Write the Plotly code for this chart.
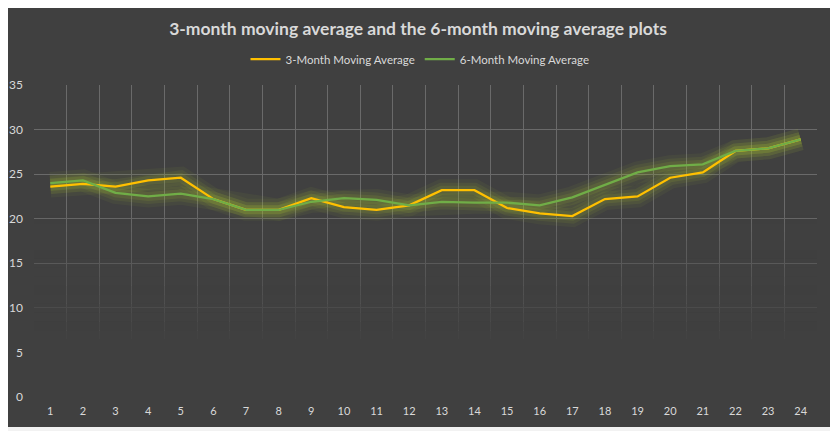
import plotly.graph_objects as go

months = [str(m) for m in range(1, 25)]
ma3 = [23.6, 23.9, 23.6, 24.3, 24.6, 22.2, 21.0, 21.0, 22.3, 21.3, 21.0, 21.5,
       23.2, 23.2, 21.2, 20.6, 20.3, 22.2, 22.5, 24.6, 25.2, 27.6, 27.9, 28.9]
ma6 = [24.0, 24.3, 22.9, 22.5, 22.8, 22.2, 21.0, 21.0, 21.9, 22.3, 22.1, 21.5,
       21.9, 21.8, 21.8, 21.5, 22.4, 23.8, 25.2, 25.9, 26.1, 27.6, 27.9, 28.9]
y_ticks = [0, 5, 10, 15, 20, 25, 30, 35]

BG = '#404040'
TXT = '#d9d9d9'
FONT = 'Lato'

fig = go.Figure()

# soft glow under both lines
for series in (ma3, ma6):
    for w, op in ((22, 0.06), (15, 0.09), (9, 0.12)):
        fig.add_trace(go.Scatter(x=months, y=series, mode='lines',
                                 line=dict(color='#a8c232', width=w),
                                 opacity=op, showlegend=False, hoverinfo='skip'))

fig.add_trace(go.Scatter(x=months, y=ma3, mode='lines', name='3-Month Moving Average',
                         line=dict(color='#ffc000', width=2.25)))
fig.add_trace(go.Scatter(x=months, y=ma6, mode='lines', name='6-Month Moving Average',
                         line=dict(color='#70ad47', width=2.25)))

# gridlines fade out toward the bottom of the plot
x_lo, x_hi = -0.5, len(months) - 0.5
shapes = [dict(type='rect', layer='between', xref='x', yref='y',
               x0=x_lo, x1=x_hi, y0=0, y1=4.5, fillcolor=BG, line=dict(width=0))]
for k in range(5, 22):
    op = min(1.0, max(0.0, (21 - k) / 15.0))
    shapes.append(dict(type='rect', layer='between', xref='x', yref='y',
                       x0=x_lo, x1=x_hi, y0=k - 0.5, y1=k + 0.5,
                       fillcolor=BG, opacity=op, line=dict(width=0)))

# the page has an 8px body margin, so the figure is 8px smaller
W, H = 830, 423
ml, mr, mt, mb = 26, 21, 77, 34
pw, ph = W - ml - mr, H - mt - mb
# dark chart area inside a light worksheet frame
shapes.append(dict(type='rect', layer='below', xref='paper', yref='paper',
                   x0=-ml / pw, x1=(824 - ml) / pw,
                   y0=-(mb - 4) / ph, y1=(H - mb) / ph,
                   fillcolor=BG, line=dict(width=0)))

fig.update_layout(
    template='none',
    width=W, height=H,
    margin=dict(l=ml, r=mr, t=mt, b=mb, autoexpand=False),
    paper_bgcolor='#f2f2f2', plot_bgcolor=BG,
    font=dict(family=FONT, color=TXT, size=12),
    title=dict(text='<b>3-month moving average and the 6-month moving average plots</b>',
               x=(418 - 8) / W, xanchor='center', xref='container',
               y=1 - 21 / H, yanchor='middle', yref='container',
               font=dict(family=FONT, size=17.5, color=TXT)),
    legend=dict(orientation='h', x=(420 - 8) / W, xanchor='center', xref='container',
                y=1 - 51 / H, yanchor='middle', yref='container',
                font=dict(family=FONT, size=11.5, color=TXT),
                bgcolor='rgba(0,0,0,0)'),
    shapes=shapes,
)

fig.update_xaxes(type='category', tickson='boundaries', showgrid=True, automargin=False,
                 gridcolor='#6a6a6a', gridwidth=1, showline=False, ticks='',
                 tickfont=dict(size=11, color=TXT), ticklabelstandoff=6)
fig.update_yaxes(range=[0, 35], tickvals=y_ticks, showgrid=True, gridcolor='#6a6a6a',
                 automargin=False, gridwidth=1, zeroline=False, showline=False, ticks='',
                 tickfont=dict(size=12, color=TXT), ticklabelstandoff=10)

fig.write_html('out.html')
